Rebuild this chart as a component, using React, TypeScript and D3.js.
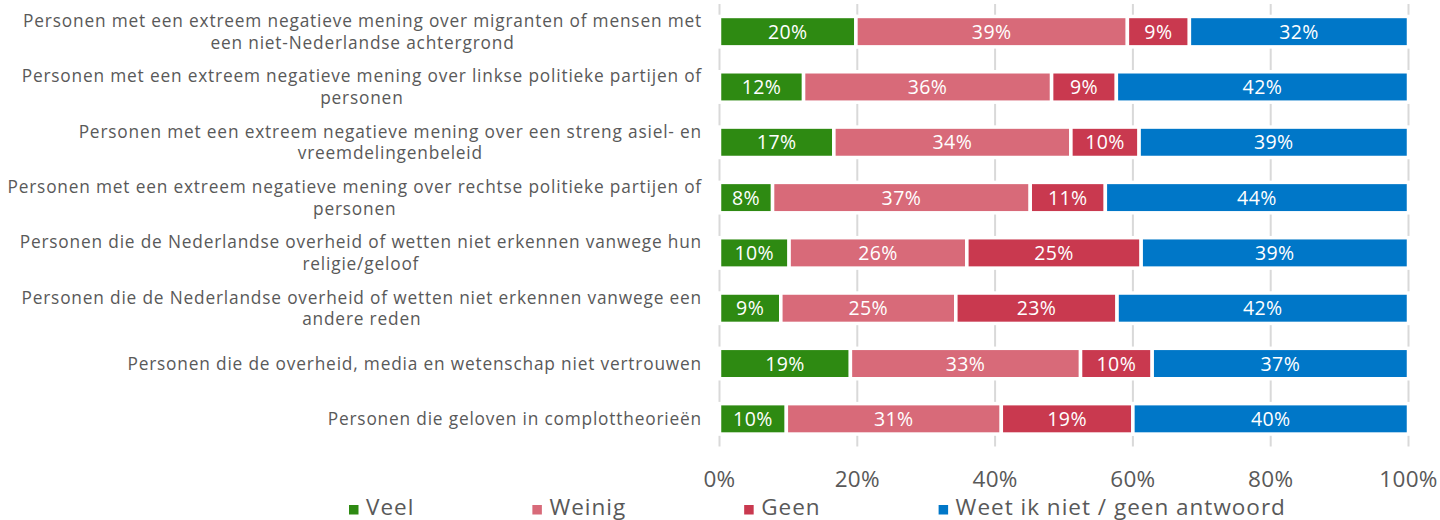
import React, { useEffect, useRef } from "react";
import * as d3 from "d3";

// Survey categories (each label split into its display lines)
const categories: string[][] = [
  ["Personen met een extreem negatieve mening over migranten of mensen met", "een niet-Nederlandse achtergrond"],
  ["Personen met een extreem negatieve mening over linkse politieke partijen of", "personen"],
  ["Personen met een extreem negatieve mening over een streng asiel- en", "vreemdelingenbeleid"],
  ["Personen met een extreem negatieve mening over rechtse politieke partijen of", "personen"],
  ["Personen die de Nederlandse overheid of wetten niet erkennen vanwege hun", "religie/geloof"],
  ["Personen die de Nederlandse overheid of wetten niet erkennen vanwege een", "andere reden"],
  ["Personen die de overheid, media en wetenschap niet vertrouwen"],
  ["Personen die geloven in complottheorieën"],
];

const seriesNames = ["Veel", "Weinig", "Geen", "Weet ik niet / geen antwoord"];
const seriesColors = ["#2e8a12", "#d86a79", "#c9394f", "#0077c8"];

// Shares (%) per category
const veel = [19.8, 12.2, 16.6, 7.7, 10.1, 8.9, 19.0, 9.7];
const weinig = [39.4, 36.0, 34.4, 37.4, 25.8, 25.4, 33.4, 31.2];
const geen = [9.0, 9.4, 9.9, 10.9, 25.3, 23.4, 10.4, 19.1];
const weetNiet = [31.8, 42.4, 39.1, 44.0, 38.8, 42.3, 37.2, 40.0];

const xTicks = [0, 20, 40, 60, 80, 100];

const W = 1440;
const H = 520;
const FONT = "'Open Sans', sans-serif";
const GRAY = "#595959";

export default function App() {
  const ref = useRef<SVGSVGElement | null>(null);

  useEffect(() => {
    const svg = d3.select(ref.current);
    svg.selectAll("*").remove();

    const values = [veel, weinig, geen, weetNiet];
    const rows = categories.map((c, i) => ({
      idx: i,
      lines: c,
      vals: values.map((s) => s[i]),
    }));

    const x = d3.scaleLinear().domain([0, 100]).range([719.5, 1408.5]);
    const y = d3
      .scaleBand<number>()
      .domain(rows.map((r) => r.idx))
      .range([4, 446.5])
      .paddingInner(0.45)
      .paddingOuter(0.225);

    // vertical gridlines
    svg
      .append("g")
      .selectAll("line")
      .data(xTicks)
      .join("line")
      .attr("x1", (d) => x(d))
      .attr("x2", (d) => x(d))
      .attr("y1", 4)
      .attr("y2", 446.5)
      .attr("stroke", "#d9d9d9")
      .attr("stroke-width", 2);

    // stacked bars
    const stack = d3
      .stack<{ idx: number; vals: number[] }, number>()
      .keys([0, 1, 2, 3])
      .value((d, k) => d.vals[k]);
    const stacked = stack(rows);

    stacked.forEach((layer, k) => {
      const g = svg.append("g");
      g.selectAll("rect")
        .data(layer)
        .join("rect")
        .attr("x", (d) => x(d[0]))
        .attr("width", (d) => x(d[1]) - x(d[0]))
        .attr("y", (d) => y(d.data.idx)!)
        .attr("height", y.bandwidth())
        .attr("fill", seriesColors[k])
        .attr("stroke", "#ffffff")
        .attr("stroke-width", 3.5);
      g.selectAll("text")
        .data(layer)
        .join("text")
        .attr("x", (d) => (x(d[0]) + x(d[1])) / 2)
        .attr("y", (d) => y(d.data.idx)! + y.bandwidth() / 2)
        .attr("dy", "0.36em")
        .attr("text-anchor", "middle")
        .attr("fill", "#ffffff")
        .attr("font-family", FONT)
        .attr("font-size", 19.5)
        .attr("letter-spacing", 0.4)
        .text((d) => `${Math.round(d[1] - d[0])}%`);
    });

    // category labels: block right-aligned, lines centred within the block
    const labelRight = 702;
    const lineH = 21.6;
    rows.forEach((r) => {
      const cy = y(r.idx)! + y.bandwidth() / 2;
      const g = svg.append("g");
      const texts = g
        .selectAll("text")
        .data(r.lines)
        .join("text")
        .attr("y", (_d, i) => cy + 6.2 + (i - (r.lines.length - 1) / 2) * lineH)
        .attr("fill", GRAY)
        .attr("font-family", FONT)
        .attr("font-size", 17.3)
        .attr("letter-spacing", 0.82)
        .attr("text-anchor", "start")
        .text((d) => d);
      const widths = texts.nodes().map((n) => (n as SVGTextElement).getComputedTextLength());
      const blockW = d3.max(widths) ?? 0;
      texts.attr("x", (_d, i) => labelRight - blockW / 2 - widths[i] / 2);
    });

    // x axis tick labels
    svg
      .append("g")
      .selectAll("text")
      .data(xTicks)
      .join("text")
      .attr("x", (d) => x(d))
      .attr("y", 486.5)
      .attr("text-anchor", "middle")
      .attr("fill", GRAY)
      .attr("font-family", FONT)
      .attr("font-size", 22.5)
      .attr("letter-spacing", 0.3)
      .text((d) => `${d}%`);

    // legend
    const legend = svg.append("g");
    let lx = 349;
    seriesNames.forEach((name, k) => {
      legend
        .append("rect")
        .attr("x", lx)
        .attr("y", 505)
        .attr("width", 9.5)
        .attr("height", 9.5)
        .attr("fill", seriesColors[k]);
      const t = legend
        .append("text")
        .attr("x", lx + 17)
        .attr("y", 514.5)
        .attr("fill", GRAY)
        .attr("font-family", FONT)
        .attr("font-size", 22.5)
        .attr("letter-spacing", 1)
        .text(name);
      const tw = (t.node() as SVGTextElement).getComputedTextLength();
      lx = lx + 17 + tw + 118;
    });
  }, []);

  return (
    <svg
      ref={ref}
      width={W}
      height={H}
      style={{ position: "absolute", left: 0, top: 0, background: "#ffffff" }}
    />
  );
}
